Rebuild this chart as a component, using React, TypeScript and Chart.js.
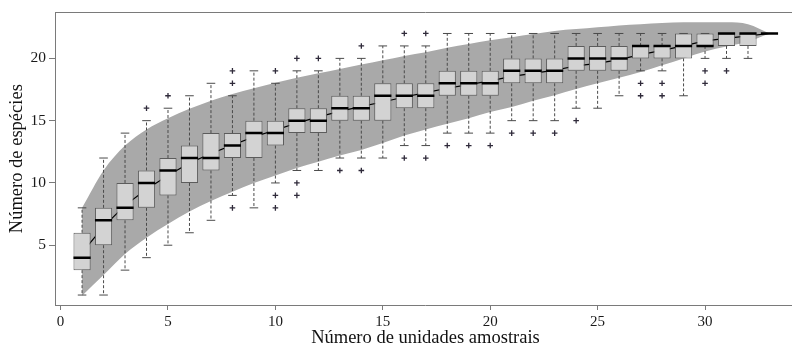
import { useEffect, useRef } from "react";
import { Chart, registerables } from "chart.js";

Chart.register(...registerables);

// ---------- data ----------
const samples = [1, 2, 3, 4, 5, 6, 7, 8, 9, 10, 11, 12, 13, 14, 15, 16, 17, 18, 19, 20, 21, 22, 23, 24, 25, 26, 27, 28, 29, 30, 31, 32, 33];
const whiskerLow = [1, 1, 3, 4, 5, 6, 7, 9, 8, 10, 11, 11, 12, 12, 12, 13, 13, 14, 14, 14, 15, 15, 15, 16, 16, 17, 19, 19, 17, 20, 20, 20, 22];
const q1 = [3, 5, 7, 8, 9, 10, 11, 12, 12, 13, 14, 14, 15, 15, 15, 16, 16, 17, 17, 17, 18, 18, 18, 19, 19, 19, 20, 20, 20, 21, 21, 21, 22];
const median = [4, 7, 8, 10, 11, 12, 12, 13, 14, 14, 15, 15, 16, 16, 17, 17, 17, 18, 18, 18, 19, 19, 19, 20, 20, 20, 21, 21, 21, 21, 22, 22, 22];
const q3 = [6, 8, 10, 11, 12, 13, 14, 14, 15, 15, 16, 16, 17, 17, 18, 18, 18, 19, 19, 19, 20, 20, 20, 21, 21, 21, 21, 21, 22, 22, 22, 22, 22];
const whiskerHigh = [8, 12, 14, 15, 16, 17, 18, 17, 19, 18, 19, 19, 20, 20, 21, 21, 21, 22, 22, 22, 22, 22, 22, 22, 22, 22, 22, 22, 22, 22, 22, 22, 22];

const outlierX = [4, 5, 8, 8, 8, 10, 10, 10, 11, 11, 11, 12, 13, 14, 14, 16, 16, 17, 17, 18, 19, 20, 21, 22, 23, 24, 27, 27, 28, 28, 30, 30, 31];
const outlierY = [16, 17, 18, 19, 8, 19, 9, 8, 20, 10, 9, 20, 11, 21, 11, 22, 12, 22, 12, 13, 13, 13, 14, 14, 14, 15, 18, 17, 18, 17, 19, 18, 19];

const meanRichness = [4.4, 6.5, 8.2, 9.5, 10.6, 11.6, 12.35, 13.05, 13.7, 14.25, 14.8, 15.3, 15.75, 16.15, 16.5, 16.9, 17.25, 17.6, 17.9, 18.2, 18.55, 18.8, 19.05, 19.4, 19.6, 19.9, 20.3, 20.65, 21.0, 21.4, 21.6, 21.8, 22];
const bandUpper = [8.0, 11.0, 13.0, 14.3, 15.2, 15.95, 16.6, 17.15, 17.6, 18.05, 18.45, 18.8, 19.15, 19.5, 19.85, 20.2, 20.5, 20.85, 21.15, 21.45, 21.7, 21.95, 22.2, 22.35, 22.5, 22.65, 22.75, 22.85, 22.9, 22.9, 22.9, 22.75, 22.0];
const bandLower = [0.95, 2.6, 4.3, 5.6, 6.7, 7.7, 8.55, 9.3, 10.0, 10.6, 11.2, 11.7, 12.2, 12.65, 13.2, 13.8, 14.3, 14.75, 15.2, 15.7, 16.1, 16.6, 17.05, 17.55, 18.0, 18.45, 18.9, 19.45, 20.0, 20.55, 20.95, 21.35, 22.0];

const xTicks = [0, 5, 10, 15, 20, 25, 30];
const yTicks = [5, 10, 15, 20];

const xTitle = "Número de unidades amostrais";
const yTitle = "Número de espécies";

// ---------- styling ----------
const SERIF = "'Liberation Serif', 'Times New Roman', Times, serif";
const AXIS = "#7a7a7a";
const BAND = "#a9a9a9";
const BOX_FILL = "#d3d3d3";
const BOX_EDGE = "#5c5c5c";
const WHISKER = "#4a4a4a";
const TEXT = "#1a1a1a";
const BOX_HALF = 0.4;
const CAP_HALF = 0.2;
const CANVAS_W = 800;

type P = { x: number; y: number | null };

function segments(pairs: Array<[P, P]>): P[] {
  const out: P[] = [];
  pairs.forEach(([a, b]) => {
    out.push(a, b, { x: b.x, y: null });
  });
  return out;
}

export default function App() {
  const ref = useRef<HTMLCanvasElement | null>(null);

  useEffect(() => {
    document.body.style.margin = "0";
    const canvas = ref.current;
    if (!canvas) return;

    const upper = samples.map((x, i) => ({ x, y: bandUpper[i] }));
    const lower = samples.map((x, i) => ({ x, y: bandLower[i] }));
    const mean = samples.map((x, i) => ({ x, y: meanRichness[i] }));
    const boxes = samples.map((x, i) => ({ x, y: [q1[i], q3[i]] }));

    const whiskerPairs: Array<[P, P]> = [];
    const capPairs: Array<[P, P]> = [];
    samples.forEach((x, i) => {
      if (whiskerHigh[i] > q3[i]) {
        whiskerPairs.push([{ x, y: q3[i] }, { x, y: whiskerHigh[i] }]);
      }
      if (whiskerLow[i] < q1[i]) {
        whiskerPairs.push([{ x, y: q1[i] }, { x, y: whiskerLow[i] }]);
      }
      capPairs.push([{ x: x - CAP_HALF, y: whiskerHigh[i] }, { x: x + CAP_HALF, y: whiskerHigh[i] }]);
      capPairs.push([{ x: x - CAP_HALF, y: whiskerLow[i] }, { x: x + CAP_HALF, y: whiskerLow[i] }]);
    });
    const medianPairs: Array<[P, P]> = samples.map((x, i) => [
      { x: x - BOX_HALF, y: median[i] },
      { x: x + BOX_HALF, y: median[i] },
    ]);
    const outliers = outlierX.map((x, i) => ({ x, y: outlierY[i] }));

    const lineBase = {
      type: "line" as const,
      pointRadius: 0,
      pointHoverRadius: 0,
      spanGaps: false,
      fill: false,
    };

    const xMin = -0.26;
    const xMax = 34.23;

    const chart = new Chart(canvas, {
      type: "bar",
      data: {
        datasets: [
          {
            ...lineBase,
            label: "upper",
            data: upper,
            borderWidth: 0,
            borderColor: BAND,
            backgroundColor: BAND,
            fill: "+1",
            cubicInterpolationMode: "monotone",
            order: 20,
          } as any,
          {
            ...lineBase,
            label: "lower",
            data: lower,
            borderWidth: 0,
            borderColor: BAND,
            backgroundColor: BAND,
            cubicInterpolationMode: "monotone",
            order: 19,
          } as any,
          {
            ...lineBase,
            label: "mean",
            data: mean,
            borderWidth: 1.2,
            borderColor: "#000",
            order: 18,
          } as any,
          {
            ...lineBase,
            label: "whiskers",
            data: segments(whiskerPairs),
            borderWidth: 1,
            borderColor: WHISKER,
            borderDash: [3, 2],
            order: 17,
          } as any,
          {
            ...lineBase,
            label: "caps",
            data: segments(capPairs),
            borderWidth: 1,
            borderColor: WHISKER,
            order: 16,
          } as any,
          {
            type: "bar",
            label: "boxes",
            data: boxes as any,
            backgroundColor: BOX_FILL,
            borderColor: BOX_EDGE,
            borderWidth: 1,
            borderSkipped: false,
            categoryPercentage: 1,
            barPercentage: 0.8,
            order: 15,
          } as any,
          {
            ...lineBase,
            label: "medians",
            data: segments(medianPairs),
            borderWidth: 2.5,
            borderColor: "#000",
            borderCapStyle: "butt",
            order: 14,
          } as any,
          {
            type: "line",
            label: "outliers",
            data: outliers,
            showLine: false,
            pointStyle: "cross",
            pointRadius: 2.8,
            pointHoverRadius: 2.8,
            pointBorderWidth: 1.3,
            pointBorderColor: "#2f2a3a",
            pointBackgroundColor: "#2f2a3a",
            order: 13,
          } as any,
        ],
      },
      options: {
        animation: false,
        responsive: false,
        maintainAspectRatio: false,
        events: [],
        layout: { padding: { top: 12, left: 0, right: 0, bottom: 0 } },
        plugins: {
          legend: { display: false },
          tooltip: { enabled: false },
        },
        scales: {
          x: {
            type: "linear",
            position: "bottom",
            min: xMin,
            max: xMax,
            offset: false,
            afterBuildTicks: (s: any) => {
              s.ticks = xTicks.map((v) => ({ value: v }));
            },
            afterFit: (s: any) => {
              s.height = 44;
            },
            grid: {
              display: true,
              drawOnChartArea: false,
              drawTicks: true,
              tickLength: 5,
              tickColor: AXIS,
              offset: false,
            },
            border: { display: true, color: AXIS, width: 1 },
            ticks: {
              color: TEXT,
              font: { family: SERIF, size: 15 },
              padding: 3,
              maxRotation: 0,
              autoSkip: false,
            },
            title: {
              display: true,
              text: xTitle,
              color: "#111",
              font: { family: SERIF, size: 18.5 },
              padding: { top: 0, bottom: 0 },
            },
          },
          x2: {
            type: "linear",
            position: "top",
            axis: "x",
            min: xMin,
            max: xMax,
            afterFit: (s: any) => {
              s.height = 0;
            },
            grid: { display: true, drawOnChartArea: false, drawTicks: false },
            border: { display: true, color: AXIS, width: 1 },
            ticks: { display: false },
          },
          y: {
            type: "linear",
            position: "left",
            min: 0.2,
            max: 23.7,
            afterBuildTicks: (s: any) => {
              s.ticks = yTicks.map((v) => ({ value: v }));
            },
            afterFit: (s: any) => {
              s.width = 55;
            },
            grid: {
              display: true,
              drawOnChartArea: false,
              drawTicks: true,
              tickLength: 6,
              tickColor: AXIS,
            },
            border: { display: true, color: AXIS, width: 1 },
            ticks: {
              color: TEXT,
              font: { family: SERIF, size: 15.5 },
              padding: 3,
              autoSkip: false,
            },
            title: {
              display: true,
              text: yTitle,
              color: "#111",
              font: { family: SERIF, size: 18.5 },
              padding: { top: 6, bottom: 0 },
            },
          },
        },
      } as any,
    });

    return () => chart.destroy();
  }, []);

  return (
    <div style={{ width: 792, height: 349, overflow: "hidden", position: "relative", background: "#fff" }}>
      <canvas ref={ref} width={CANVAS_W} height={349} style={{ display: "block", width: CANVAS_W, height: 349 }} />
    </div>
  );
}
